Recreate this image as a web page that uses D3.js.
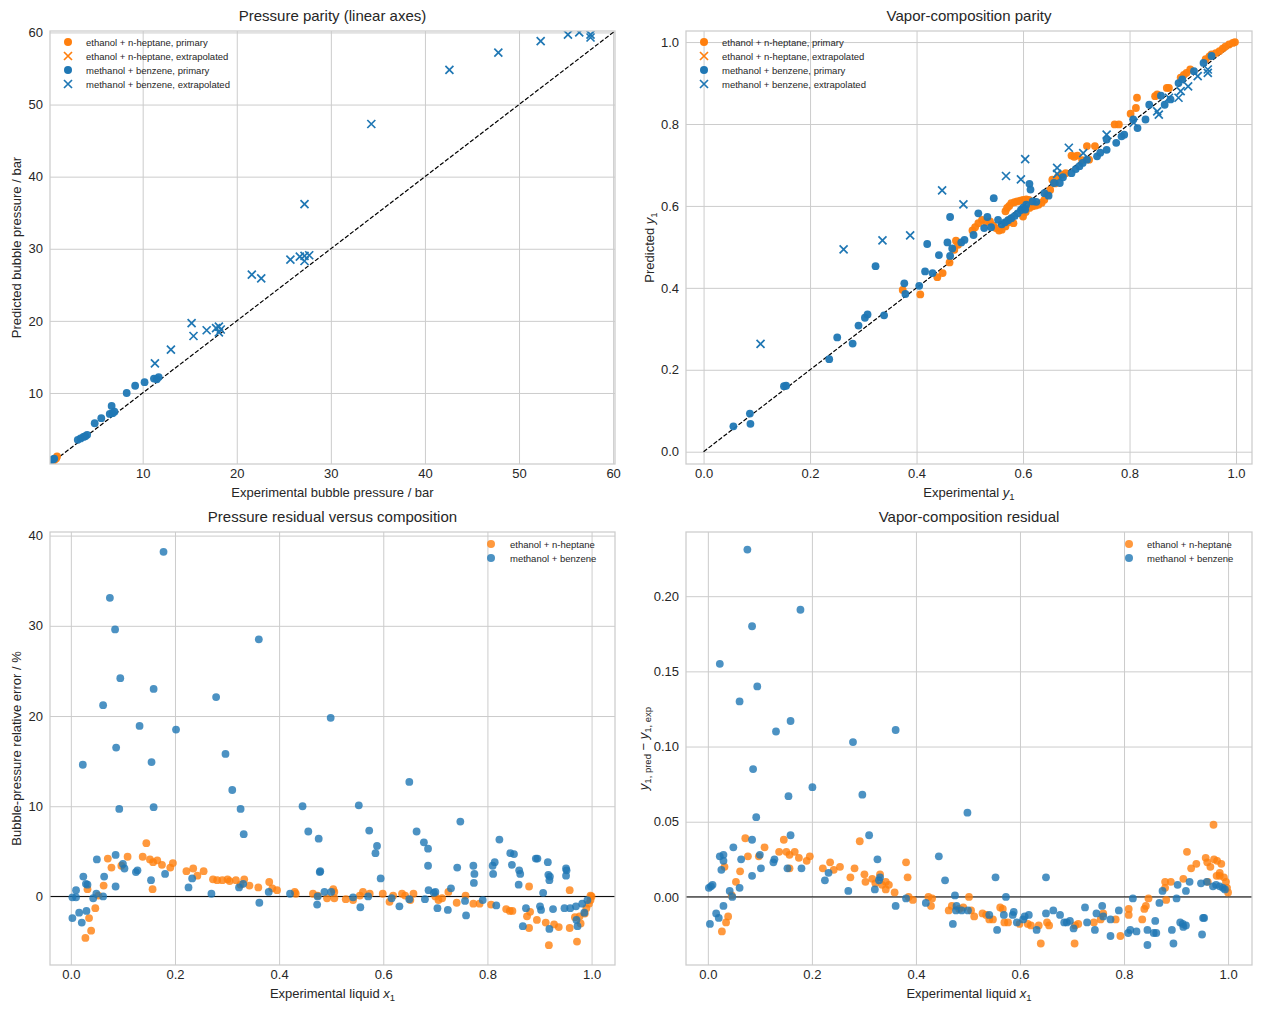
<!DOCTYPE html>
<html>
<head>
<meta charset="utf-8">
<script src="https://cdn.jsdelivr.net/npm/d3@7"></script>
<style>
body { margin: 0; background: #fff; }
text { font-family: "Liberation Sans", Arial, sans-serif; fill: #262626; }
</style>
</head>
<body>
<div id="chart"></div>
<script>
// ---- pressure parity (experimental, predicted), bar ----
var pParityEh = [[0.4,0.5],[0.6,0.7],[0.8,0.9],[0.9,1.2]];
var pParityMb = [[0.35,0.7],[0.5,0.8],[0.6,0.9],[3.1,3.5],[3.4,3.7],[3.7,3.9],[3.9,4.0],[4.1,4.2],[4.9,5.8],
  [5.6,6.5],[6.5,7.1],[6.7,8.2],[6.8,7.2],[7.0,7.4],[8.3,10.0],[9.2,11.0],[10.2,11.5],[11.2,12.0],[11.5,11.9],[11.7,12.2]];
var pParityMbExtr = [[11.3,14.1],[13.0,16.0],[15.2,19.7],[15.4,17.9],[16.8,18.7],[17.8,19.0],[18.1,19.2],[18.3,18.8],
  [18.1,18.4],[21.6,26.4],[22.6,25.9],[25.7,28.5],[26.7,28.9],[27.2,29.0],[27.7,29.1],[27.2,28.3],[27.2,36.2],
  [34.3,47.3],[42.6,54.8],[47.8,57.2],[52.3,58.8],[55.2,59.7],[56.4,60.0],[57.6,59.3],[57.6,59.7]];

// ---- vapour parity (experimental y1, predicted y1) ----
var yParityEh = [[0.374,0.395],[0.407,0.384],[0.439,0.426],[0.449,0.436],[0.462,0.462],[0.471,0.493],[0.474,0.515],
  [0.478,0.505],[0.505,0.540],[0.510,0.548],[0.516,0.558],[0.523,0.566],[0.530,0.560],[0.538,0.562],[0.544,0.552],
  [0.549,0.546],[0.555,0.540],[0.560,0.542],[0.567,0.550],[0.572,0.560],[0.574,0.566],[0.582,0.558],[0.567,0.587],
  [0.570,0.595],[0.574,0.600],[0.578,0.607],[0.584,0.609],[0.589,0.611],[0.595,0.613],[0.600,0.615],[0.606,0.616],
  [0.611,0.615],[0.600,0.574],[0.605,0.585],[0.612,0.595],[0.618,0.599],[0.624,0.601],[0.629,0.603],[0.635,0.608],
  [0.640,0.615],[0.645,0.628],[0.651,0.639],[0.655,0.664],[0.660,0.655],[0.666,0.672],[0.673,0.676],[0.680,0.680],
  [0.691,0.723],[0.696,0.720],[0.702,0.723],[0.711,0.712],[0.720,0.746],[0.724,0.713],[0.735,0.746],[0.772,0.799],
  [0.780,0.799],[0.802,0.825],[0.812,0.839],[0.814,0.864],[0.848,0.868],[0.852,0.872],[0.870,0.888],[0.874,0.888],
  [0.896,0.913],[0.902,0.920],[0.907,0.925],[0.914,0.933],[0.943,0.958],[0.950,0.965],[0.954,0.970],[0.962,0.973],
  [0.969,0.978],[0.975,0.984],[0.980,0.989],[0.987,0.994],[0.994,0.998],[0.998,1.0]];
var yParityMb = [[0.056,0.062],[0.087,0.093],[0.088,0.068],[0.151,0.160],[0.155,0.161],[0.236,0.226],[0.251,0.279],
  [0.280,0.264],[0.291,0.308],[0.303,0.327],[0.308,0.335],[0.339,0.333],[0.323,0.453],[0.377,0.411],[0.379,0.385],
  [0.405,0.405],[0.416,0.440],[0.430,0.436],[0.420,0.507],[0.442,0.480],[0.458,0.511],[0.463,0.573],[0.463,0.478],
  [0.467,0.496],[0.484,0.511],[0.490,0.517],[0.507,0.529],[0.516,0.582],[0.533,0.573],[0.545,0.619],[0.527,0.546],
  [0.553,0.566],[0.540,0.548],[0.560,0.555],[0.566,0.560],[0.572,0.565],[0.578,0.570],[0.584,0.575],[0.590,0.582],
  [0.596,0.590],[0.600,0.596],[0.606,0.603],[0.612,0.654],[0.614,0.640],[0.604,0.591],[0.618,0.611],[0.625,0.610],
  [0.640,0.631],[0.648,0.625],[0.658,0.656],[0.669,0.656],[0.675,0.670],[0.691,0.680],[0.699,0.690],[0.706,0.697],
  [0.712,0.705],[0.720,0.713],[0.739,0.721],[0.745,0.730],[0.757,0.737],[0.757,0.762],[0.775,0.754],[0.785,0.770],
  [0.790,0.774],[0.807,0.811],[0.815,0.790],[0.830,0.811],[0.837,0.847],[0.859,0.869],[0.866,0.847],[0.877,0.860],
  [0.892,0.900],[0.899,0.909],[0.921,0.929],[0.939,0.949],[0.954,0.966]];
var yParityMbExtr = [[0.107,0.263],[0.263,0.494],[0.336,0.516],[0.388,0.528],[0.448,0.638],[0.488,0.604],[0.568,0.673],
  [0.596,0.665],[0.604,0.714],[0.664,0.693],[0.664,0.678],[0.686,0.742],[0.713,0.729],[0.757,0.774],[0.808,0.803],
  [0.852,0.831],[0.855,0.823],[0.874,0.864],[0.892,0.864],[0.896,0.880],[0.910,0.892],[0.928,0.917],[0.947,0.933],
  [0.947,0.925]];

// ---- bubble-pressure relative error (x1, %) ----
var pResEh = [[0.028,-4.6],[0.039,-3.8],[0.035,-2.4],[0.047,-1.3],[0.032,0.8],[0.053,0.1],[0.063,1.2],[0.078,3.2],
  [0.071,4.2],[0.097,3.4],[0.109,4.4],[0.138,4.4],[0.145,5.9],[0.152,4.1],[0.157,0.8],[0.158,3.8],[0.166,4.0],
  [0.175,3.5],[0.191,3.2],[0.196,3.7],[0.222,2.8],[0.235,3.1],[0.243,2.3],[0.255,2.8],[0.273,1.9],[0.281,1.8],
  [0.291,1.8],[0.301,1.9],[0.305,1.7],[0.317,1.8],[0.333,1.9],[0.326,1.3],[0.343,1.2],[0.360,1.0],[0.381,1.6],
  [0.387,0.9],[0.396,0.7],[0.430,0.5],[0.432,0.3],[0.465,0.3],[0.474,0.1],[0.492,-0.2],[0.506,0.5],[0.506,-0.2],
  [0.504,0.8],[0.528,-0.3],[0.542,-0.4],[0.555,0.1],[0.561,0.5],[0.574,0.3],[0.599,0.3],[0.612,-0.6],[0.619,0.1],
  [0.636,0.3],[0.642,0.1],[0.658,0.3],[0.652,-0.4],[0.700,0.0],[0.706,-0.4],[0.713,-0.2],[0.725,0.5],[0.741,-0.7],
  [0.758,0.1],[0.773,-0.8],[0.785,-0.8],[0.807,-0.9],[0.836,-1.4],[0.843,-1.6],[0.848,-1.6],[0.880,1.1],[0.876,-2.2],
  [0.882,-1.7],[0.880,-3.5],[0.895,-2.6],[0.912,-2.9],[0.918,-5.4],[0.928,-3.1],[0.937,-3.4],[0.958,0.7],[0.958,-3.5],
  [0.968,-2.3],[0.972,-5.0],[0.977,-2.2],[0.979,-3.0],[0.987,-1.9],[0.990,-1.3],[0.995,-0.8],[0.998,-0.4],[1.0,0.0],
  [0.998,0.1]];
var pResMb = [[0.178,38.2],[0.075,33.1],[0.085,29.6],[0.361,28.5],[0.095,24.2],[0.159,23.0],[0.279,22.1],[0.062,21.2],
  [0.132,18.9],[0.202,18.5],[0.087,16.5],[0.297,15.8],[0.155,14.9],[0.023,14.6],[0.499,19.8],[0.310,11.8],[0.650,12.7],
  [0.093,9.7],[0.159,9.9],[0.326,9.7],[0.445,10.0],[0.553,10.1],[0.748,8.3],[0.332,6.9],[0.456,7.2],[0.476,6.4],
  [0.573,7.3],[0.664,7.2],[0.678,6.0],[0.686,5.3],[0.588,5.6],[0.585,4.8],[0.823,6.3],[0.844,4.8],[0.851,4.7],
  [0.893,4.2],[0.896,4.2],[0.916,3.8],[0.847,3.5],[0.810,3.4],[0.814,3.8],[0.811,2.5],[0.773,3.4],[0.775,2.5],
  [0.774,1.5],[0.742,3.2],[0.686,3.4],[0.861,2.9],[0.863,2.5],[0.860,1.3],[0.917,2.4],[0.920,2.2],[0.919,1.8],
  [0.951,3.1],[0.952,2.9],[0.951,2.3],[0.907,0.4],[0.730,0.9],[0.700,0.5],[0.687,0.7],[0.697,0.4],[0.478,2.7],
  [0.595,2.0],[0.003,-2.4],[0.021,-2.9],[0.016,-1.8],[0.030,-1.6],[0.003,-0.1],[0.010,-0.1],[0.010,0.7],[0.024,2.2],
  [0.029,1.4],[0.032,1.3],[0.043,-0.2],[0.049,0.3],[0.062,0.0],[0.050,4.1],[0.064,2.2],[0.086,4.6],[0.086,1.1],
  [0.100,3.6],[0.103,3.1],[0.125,2.7],[0.128,2.9],[0.154,1.8],[0.181,2.5],[0.226,1.0],[0.233,2.0],[0.270,0.3],
  [0.323,1.0],[0.331,1.4],[0.362,-0.7],[0.380,0.5],[0.421,0.3],[0.474,0.0],[0.473,-0.9],[0.487,0.5],[0.500,0.5],
  [0.479,2.8],[0.868,-3.3],[0.919,-3.6],[0.973,-3.3],[0.971,-2.6],[0.986,-1.8],[0.874,-1.3],[0.901,-1.1],[0.903,-1.5],
  [0.926,-1.4],[0.948,-1.3],[0.959,-1.3],[0.970,-1.1],[0.982,-0.8],[0.992,-0.4],[0.817,-1.0],[0.791,-0.4],[0.759,-2.1],
  [0.757,-0.5],[0.724,-1.5],[0.704,-1.3],[0.680,-0.3],[0.631,-1.1],[0.556,-1.2],[0.650,-0.3],[0.616,-0.2],[0.542,-0.1],
  [0.571,0.0]];

// ---- vapour residual (x1, y1 pred - y1 exp) ----
var yResEh = [[0.027,-0.023],[0.035,-0.017],[0.039,-0.013],[0.032,0.020],[0.046,0.001],[0.054,0.010],[0.062,0.017],
  [0.072,0.039],[0.077,0.027],[0.098,0.027],[0.109,0.033],[0.137,0.030],[0.146,0.038],[0.151,0.030],[0.157,0.028],
  [0.157,0.019],[0.167,0.030],[0.175,0.026],[0.190,0.024],[0.196,0.027],[0.221,0.019],[0.235,0.023],[0.242,0.018],
  [0.254,0.020],[0.274,0.013],[0.282,0.019],[0.292,0.037],[0.301,0.015],[0.303,0.010],[0.316,0.012],[0.322,0.009],
  [0.331,0.015],[0.335,0.008],[0.342,0.010],[0.342,0.005],[0.348,0.008],[0.359,0.003],[0.381,0.023],[0.384,0.013],
  [0.386,0.000],[0.394,-0.002],[0.424,0.000],[0.429,-0.006],[0.431,-0.001],[0.463,-0.009],[0.469,-0.006],
  [0.483,-0.008],[0.491,-0.007],[0.502,0.000],[0.506,-0.009],[0.512,-0.013],[0.528,-0.011],[0.535,-0.012],
  [0.541,-0.015],[0.548,-0.015],[0.562,-0.007],[0.567,-0.008],[0.570,-0.017],[0.577,-0.017],[0.599,-0.018],
  [0.615,-0.018],[0.621,-0.019],[0.636,-0.019],[0.640,-0.031],[0.652,-0.017],[0.656,-0.019],[0.706,-0.019],
  [0.705,-0.031],[0.712,-0.018],[0.742,-0.017],[0.755,-0.015],[0.760,-0.011],[0.784,-0.015],[0.793,-0.026],
  [0.809,-0.008],[0.809,-0.012],[0.835,-0.015],[0.839,-0.008],[0.842,-0.006],[0.847,-0.001],[0.879,0.010],
  [0.881,-0.002],[0.879,0.006],[0.890,0.010],[0.914,0.012],[0.921,0.030],[0.929,0.019],[0.939,0.022],[0.957,0.026],
  [0.960,0.023],[0.966,0.020],[0.972,0.048],[0.973,0.025],[0.979,0.024],[0.984,0.016],[0.987,0.022],[0.992,0.013],
  [0.996,0.010],[0.998,0.006],[1.0,0.003],[0.978,0.014],[0.984,0.014],[0.961,0.010]];
var yResMb = [[0.076,0.231],[0.178,0.191],[0.085,0.180],[0.023,0.155],[0.095,0.140],[0.061,0.130],[0.159,0.117],
  [0.131,0.110],[0.361,0.111],[0.279,0.103],[0.087,0.085],[0.201,0.073],[0.155,0.067],[0.297,0.068],[0.499,0.056],
  [0.093,0.053],[0.159,0.041],[0.310,0.041],[0.085,0.038],[0.049,0.033],[0.023,0.027],[0.030,0.028],[0.030,0.024],
  [0.026,0.018],[0.064,0.025],[0.100,0.028],[0.102,0.019],[0.126,0.023],[0.128,0.025],[0.153,0.019],[0.180,0.019],
  [0.085,0.014],[0.061,0.006],[0.042,0.004],[0.047,0.000],[0.002,0.006],[0.006,0.007],[0.009,0.008],[0.326,0.025],
  [0.225,0.011],[0.232,0.016],[0.270,0.004],[0.321,0.005],[0.331,0.013],[0.329,0.011],[0.444,0.027],[0.456,0.011],
  [0.475,0.001],[0.553,0.013],[0.573,0.000],[0.650,0.013],[0.030,-0.006],[0.817,-0.001],[0.004,-0.018],[0.016,-0.011],
  [0.021,-0.014],[0.361,-0.006],[0.381,-0.001],[0.419,-0.004],[0.471,-0.018],[0.478,-0.006],[0.477,-0.009],
  [0.488,-0.009],[0.500,-0.009],[0.541,-0.012],[0.556,-0.022],[0.569,-0.012],[0.586,-0.012],[0.588,-0.010],
  [0.594,-0.017],[0.606,-0.015],[0.609,-0.013],[0.617,-0.012],[0.632,-0.022],[0.650,-0.011],[0.664,-0.009],
  [0.677,-0.012],[0.685,-0.017],[0.690,-0.017],[0.696,-0.016],[0.703,-0.021],[0.725,-0.007],[0.729,-0.017],
  [0.744,-0.022],[0.747,-0.011],[0.758,-0.006],[0.760,-0.013],[0.774,-0.015],[0.774,-0.026],[0.790,-0.009],
  [0.808,-0.024],[0.812,-0.022],[0.824,-0.023],[0.845,-0.022],[0.845,-0.032],[0.857,-0.024],[0.862,-0.024],
  [0.860,-0.016],[0.868,-0.004],[0.874,0.004],[0.892,-0.022],[0.895,-0.031],[0.901,-0.001],[0.908,-0.017],
  [0.913,-0.018],[0.919,-0.019],[0.914,-0.020],[0.903,0.008],[0.919,0.004],[0.926,0.010],[0.952,-0.014],
  [0.954,-0.014],[0.950,-0.025],[0.948,0.009],[0.959,0.010],[0.971,0.007],[0.977,0.008],[0.984,0.007],
  [0.990,0.006],[0.994,0.005]];

var blue = "#1f77b4", orange = "#ff7f0e";
var W = 1261, H = 1011;

var svg = d3.select("#chart").append("svg")
  .attr("width", W).attr("height", H);
svg.append("rect").attr("width", W).attr("height", H).attr("fill", "#fff");

var clipN = 0;
function panel(box, xDom, yDom, xTicks, yTicks, xFmt, yFmt) {
  var x = d3.scaleLinear().domain(xDom).range([box.l, box.r]);
  var y = d3.scaleLinear().domain(yDom).range([box.b, box.t]);
  var g = svg.append("g");
  var id = "clip" + (clipN++);
  g.append("clipPath").attr("id", id).append("rect")
    .attr("x", box.l).attr("y", box.t).attr("width", box.r - box.l).attr("height", box.b - box.t);

  var gx = g.append("g").attr("transform", "translate(0," + box.b + ")")
    .call(d3.axisBottom(x).tickValues(xTicks).tickFormat(xFmt).tickSize(-(box.b - box.t)).tickPadding(5));
  var gy = g.append("g").attr("transform", "translate(" + box.l + ",0)")
    .call(d3.axisLeft(y).tickValues(yTicks).tickFormat(yFmt).tickSize(-(box.r - box.l)).tickPadding(7));
  [gx, gy].forEach(function(a) {
    a.select(".domain").remove();
    a.selectAll("line").attr("stroke", "#cccccc").attr("stroke-width", 1);
    a.selectAll("text").attr("font-size", 13).attr("fill", "#262626")
      .attr("font-family", '"Liberation Sans", Arial, sans-serif');
  });

  var plot = g.append("g").attr("clip-path", "url(#" + id + ")");
  var top = g.append("g");
  return {g: g, x: x, y: y, plot: plot, top: top, box: box};
}

function frame(p) {
  p.top.append("rect").attr("x", p.box.l).attr("y", p.box.t)
    .attr("width", p.box.r - p.box.l).attr("height", p.box.b - p.box.t)
    .attr("fill", "none").attr("stroke", "#cccccc").attr("stroke-width", 1.25);
}

function dots(p, data, color, op) {
  p.plot.selectAll(null).data(data).enter().append("circle")
    .attr("cx", function(d) { return p.x(d[0]); })
    .attr("cy", function(d) { return p.y(d[1]); })
    .attr("r", 3.9).attr("fill", color).attr("fill-opacity", op);
}

function crosses(p, data, color) {
  var s = 4;
  p.plot.selectAll(null).data(data).enter().append("path")
    .attr("d", function(d) {
      var cx = p.x(d[0]), cy = p.y(d[1]);
      return "M" + (cx - s) + "," + (cy - s) + "L" + (cx + s) + "," + (cy + s) +
        "M" + (cx - s) + "," + (cy + s) + "L" + (cx + s) + "," + (cy - s);
    })
    .attr("stroke", color).attr("stroke-width", 1.7).attr("fill", "none");
}

function titleAndX(p, title, xlab) {
  var cx = (p.box.l + p.box.r) / 2;
  p.g.append("text").attr("x", cx).attr("y", p.box.t - 10).attr("text-anchor", "middle")
    .attr("font-size", 15).text(title);
  var t = p.g.append("text").attr("x", cx).attr("y", p.box.b + 33).attr("text-anchor", "middle")
    .attr("font-size", 13);
  xlab(t);
}

function ylabel(p, xpos, fill) {
  var cy = (p.box.t + p.box.b) / 2;
  var t = p.g.append("text").attr("transform", "translate(" + xpos + "," + cy + ") rotate(-90)")
    .attr("text-anchor", "middle").attr("font-size", 13);
  fill(t);
}

function legend(p, mx, tx, y0, items) {
  var lg = p.top.append("g");
  items.forEach(function(it, i) {
    var yy = y0 + i * 14;
    if (it.shape === "x") {
      var s = 4;
      lg.append("path").attr("d", "M" + (mx - s) + "," + (yy - s) + "L" + (mx + s) + "," + (yy + s) +
        "M" + (mx - s) + "," + (yy + s) + "L" + (mx + s) + "," + (yy - s))
        .attr("stroke", it.color).attr("stroke-width", 1.7);
    } else {
      lg.append("circle").attr("cx", mx).attr("cy", yy).attr("r", 4)
        .attr("fill", it.color).attr("fill-opacity", it.op || 1);
    }
    lg.append("text").attr("x", tx).attr("y", yy + 3.5).attr("font-size", 9.5).text(it.label);
  });
}

function sub(t, base, s) {
  t.append("tspan").attr("font-style", "italic").text(base);
  t.append("tspan").attr("font-size", 9.5).attr("dy", 3).text(s);
}

var fmtInt = d3.format("d"), fmt1 = d3.format(".1f"), fmt2 = d3.format(".2f");
var fracTicks = [0, 0.2, 0.4, 0.6, 0.8, 1.0];

// ---------- panel 1: pressure parity ----------
var p1 = panel({l: 50, r: 615, t: 31, b: 464}, [0.15, 60.2], [0.15, 60.2],
  [10, 20, 30, 40, 50, 60], [10, 20, 30, 40, 50, 60], fmtInt, fmtInt);
p1.plot.append("line").attr("x1", p1.x(0.15)).attr("y1", p1.y(0.15)).attr("x2", p1.x(60.2)).attr("y2", p1.y(60.2))
  .attr("stroke", "#000").attr("stroke-width", 1.2).attr("stroke-dasharray", "4.4,1.9");
dots(p1, pParityEh, orange, 0.95);
dots(p1, pParityMb, blue, 0.95);
crosses(p1, pParityMbExtr, blue);
frame(p1);
titleAndX(p1, "Pressure parity (linear axes)", function(t) { t.text("Experimental bubble pressure / bar"); });
ylabel(p1, 21, function(t) { t.text("Predicted bubble pressure / bar"); });
legend(p1, 68, 86, 42, [
  {label: "ethanol + n-heptane, primary", color: orange},
  {label: "ethanol + n-heptane, extrapolated", color: orange, shape: "x"},
  {label: "methanol + benzene, primary", color: blue},
  {label: "methanol + benzene, extrapolated", color: blue, shape: "x"}]);

// ---------- panel 2: vapour parity ----------
var p2 = panel({l: 686, r: 1252, t: 31, b: 464}, [-0.033, 1.03], [-0.03, 1.027],
  fracTicks, fracTicks, fmt1, fmt1);
p2.plot.append("line").attr("x1", p2.x(0)).attr("y1", p2.y(0)).attr("x2", p2.x(1)).attr("y2", p2.y(1))
  .attr("stroke", "#000").attr("stroke-width", 1.2).attr("stroke-dasharray", "4.4,1.9");
dots(p2, yParityEh, orange, 0.95);
dots(p2, yParityMb, blue, 0.95);
crosses(p2, yParityMbExtr, blue);
frame(p2);
titleAndX(p2, "Vapor-composition parity", function(t) { t.append("tspan").text("Experimental "); sub(t, "y", "1"); });
ylabel(p2, 654, function(t) { t.append("tspan").text("Predicted "); sub(t, "y", "1"); });
legend(p2, 704, 722, 42, [
  {label: "ethanol + n-heptane, primary", color: orange},
  {label: "ethanol + n-heptane, extrapolated", color: orange, shape: "x"},
  {label: "methanol + benzene, primary", color: blue},
  {label: "methanol + benzene, extrapolated", color: blue, shape: "x"}]);

// ---------- panel 3: pressure residual ----------
var p3 = panel({l: 50, r: 615, t: 532, b: 965}, [-0.04, 1.045], [-7.6, 40.4],
  fracTicks, [0, 10, 20, 30, 40], fmt1, fmtInt);
p3.plot.append("line").attr("x1", p3.box.l).attr("x2", p3.box.r).attr("y1", p3.y(0)).attr("y2", p3.y(0))
  .attr("stroke", "#000").attr("stroke-width", 1);
dots(p3, pResEh, orange, 0.8);
dots(p3, pResMb, blue, 0.8);
frame(p3);
titleAndX(p3, "Pressure residual versus composition", function(t) { t.append("tspan").text("Experimental liquid "); sub(t, "x", "1"); });
ylabel(p3, 21, function(t) { t.text("Bubble-pressure relative error / %"); });
legend(p3, 491, 510, 544, [
  {label: "ethanol + n-heptane", color: orange, op: 0.8},
  {label: "methanol + benzene", color: blue, op: 0.8}]);

// ---------- panel 4: vapour residual ----------
var p4 = panel({l: 686, r: 1252, t: 532, b: 965}, [-0.042, 1.046], [-0.0453, 0.2427],
  fracTicks, [0, 0.05, 0.10, 0.15, 0.20], fmt1, fmt2);
p4.plot.append("line").attr("x1", p4.box.l).attr("x2", p4.box.r).attr("y1", p4.y(0)).attr("y2", p4.y(0))
  .attr("stroke", "#000").attr("stroke-width", 1);
dots(p4, yResEh, orange, 0.8);
dots(p4, yResMb, blue, 0.8);
frame(p4);
titleAndX(p4, "Vapor-composition residual", function(t) { t.append("tspan").text("Experimental liquid "); sub(t, "x", "1"); });
ylabel(p4, 648, function(t) {
  sub(t, "y", "1, pred");
  t.append("tspan").attr("dy", -3).text(" \u2212 ");
  sub(t, "y", "1, exp");
});
legend(p4, 1129, 1147, 544, [
  {label: "ethanol + n-heptane", color: orange, op: 0.8},
  {label: "methanol + benzene", color: blue, op: 0.8}]);
</script>
</body>
</html>
